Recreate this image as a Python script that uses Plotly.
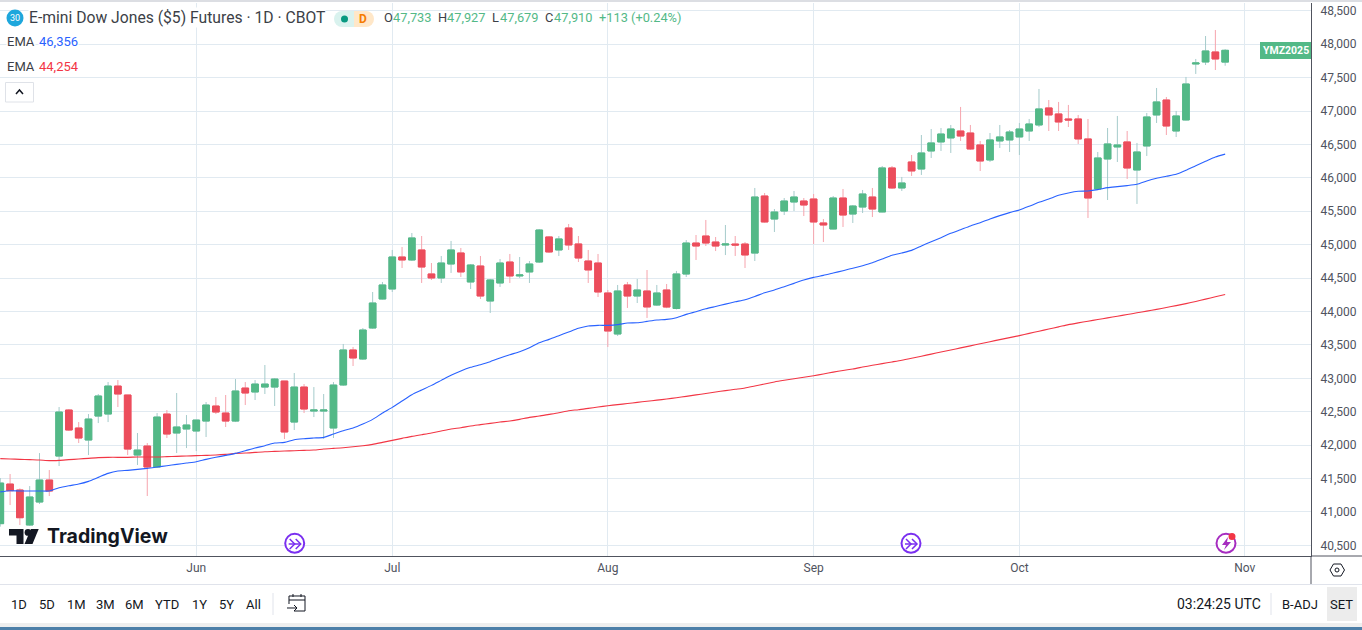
import plotly.graph_objects as go

# trading day number, 0 = 2 Jun
day = list(range(-20, 106))

open_ = [40824,41417,41328,40804,41148,41477,41836,42525,42256,42076,42435,42465,42884,42750,41851,41986,41672,42465,42181,42241,
         42211,42360,42585,42480,42360,42854,42795,42869,42869,42959,42345,42869,42510,42510,42256,42900,43424,43289,43753,44187,
         44337,44816,44771,44921,44562,44502,44711,44876,44442,44681,44157,44427,44741,44532,44592,44741,45116,44921,45250,45011,
         44756,44726,44277,43663,44397,44232,44307,44097,44322,44045,44561,45025,45130,45040,44995,45010,45010,44875,45729,45384,
         45504,45639,45654,45684,45325,45235,45699,45459,45564,45714,45490,46149,45849,46238,46133,46403,46538,46598,46702,46672,
         46493,46268,46553,46568,46613,46702,46792,47047,46957,46882,46882,46583,45834,46283,46463,46538,46118,46478,46942,47166,
         46702,46867,47705,47735,47885,47733]
high = [41507,41567,41352,41387,41881,41627,42570,42540,42345,42465,42765,42944,42974,42750,42181,42031,42480,42525,42780,42450,
        42375,42645,42720,42750,42989,42944,42974,43199,43004,42959,43079,42914,42869,42765,42944,43514,43469,43753,44292,44442,
        44921,44966,45175,45130,44726,44831,45056,44951,44711,44831,44487,44786,44861,44816,44756,45235,45130,45130,45310,45130,
        44921,44861,44322,44397,44442,44487,44621,44397,44412,44607,45070,45145,45370,45115,45295,45130,45040,45849,45774,45534,
        45699,45804,45699,45759,45384,45729,45834,45594,45819,45849,46178,46178,46014,46343,46642,46732,46747,46792,47062,46792,
        46553,46672,46792,46717,46822,46882,47331,47166,47137,47092,46942,46882,46388,46747,46927,46702,46523,46972,47346,47211,
        47002,47511,47780,48124,48214,47927]
low = [40779,41103,40804,40789,41118,41238,41687,42211,42031,41851,42330,42345,42570,41851,41702,41238,41657,42106,41881,41956,
       41911,42121,42465,42271,42345,42600,42675,42765,42585,42091,42226,42480,42420,42091,42106,42885,43184,43274,43740,44180,
       44292,44651,44756,44427,44472,44427,44577,44517,44337,44187,43978,44367,44427,44502,44427,44726,44876,44831,44921,44741,
       44427,44217,43469,43633,44053,44127,43903,44083,44050,44030,44516,44771,44980,44905,44845,44831,44651,44756,45330,45190,
       45444,45504,45429,45010,45040,45230,45265,45325,45474,45414,45485,45834,45804,46029,46044,46298,46403,46373,46553,46418,
       46103,46238,46448,46388,46343,46553,46762,46702,46702,46762,46508,45400,45830,45669,46238,45984,45610,46328,46822,46642,
       46612,46860,47556,47690,47615,47679]
close = [41432,41317,40913,41223,41477,41313,42495,42226,42106,42390,42735,42884,42765,41941,41926,41672,42420,42166,42271,42301,
         42375,42600,42495,42360,42810,42780,42914,42914,42989,42196,42869,42540,42525,42525,42899,43424,43304,43723,44127,44397,
         44816,44771,45101,44666,44502,44726,44921,44592,44696,44232,44472,44726,44532,44547,44711,45220,44891,45086,44996,44801,
         44622,44292,43708,44307,44232,44322,44068,44277,44067,44562,45025,44980,45025,44980,45010,44995,44846,45714,45340,45489,
         45654,45714,45594,45340,45295,45699,45444,45579,45759,45534,46149,45849,45924,46104,46373,46523,46657,46732,46627,46433,
         46253,46568,46613,46687,46732,46807,47032,46942,46837,46867,46583,45699,46298,46508,46493,46148,46388,46912,47137,46777,
         46927,47406,47720,47900,47780,47910]

ema_blue = [41300,41317,41313,41313,41313,41313,41362,41392,41417,41457,41517,41577,41612,41622,41637,41652,41672,41692,41712,41732,
            41752,41787,41817,41846,41876,41916,41956,41991,42031,42041,42081,42096,42106,42116,42166,42216,42256,42315,42385,42480,
            42565,42660,42755,42825,42894,42969,43044,43109,43164,43204,43249,43304,43353,43398,43458,43533,43583,43638,43693,43748,
            43783,43793,43793,43803,43828,43832,43852,43872,43882,43907,43957,43997,44040,44075,44110,44145,44177,44225,44280,44322,
            44371,44421,44471,44511,44541,44576,44611,44646,44686,44731,44786,44841,44876,44915,44980,45045,45105,45170,45225,45280,
            45330,45385,45435,45480,45520,45575,45634,45684,45739,45774,45799,45804,45824,45854,45869,45884,45904,45954,45994,46024,
            46054,46114,46183,46248,46313,46356]
ema_red = [41797,41792,41787,41782,41777,41767,41772,41782,41792,41802,41812,41817,41817,41817,41822,41822,41822,41827,41832,41837,
           41842,41846,41851,41861,41876,41881,41891,41901,41906,41911,41916,41921,41926,41941,41951,41961,41976,41991,42011,42041,
           42071,42101,42131,42156,42181,42211,42241,42261,42286,42306,42326,42345,42360,42385,42415,42435,42460,42485,42515,42530,
           42550,42570,42590,42606,42622,42640,42657,42673,42690,42710,42730,42752,42772,42795,42815,42835,42855,42885,42915,42945,
           42970,42993,43016,43039,43065,43092,43118,43140,43168,43195,43220,43245,43270,43300,43331,43362,43393,43424,43455,43486,
           43517,43548,43579,43609,43639,43672,43705,43738,43770,43803,43830,43855,43880,43905,43930,43955,43980,44005,44032,44060,
           44088,44118,44150,44185,44220,44254]

month_days = [0, 20, 42, 63, 84, 107]
month_labels = ["Jun", "Jul", "Aug", "Sep", "Oct", "Nov"]
range_buttons = ["1D", "5D", "1M", "3M", "6M", "YTD", "1Y", "5Y", "All"]
button_centers = [19, 47, 76, 105, 134, 167, 199, 226, 254]

UP, DOWN = "#53b987", "#ec4d5c"
UP_WICK, DOWN_WICK = "#a5cbcb", "#f6a4ad"
GRID = "#e1eaf1"
DARK = "#131722"
AXIS = "#50535e"
FONT = "Roboto"

# plot area in page pixels
PL, PR, PT, PB = 0, 1311, 3, 556


def px(x, y):
    return (x - PL) / (PR - PL), (PB - y) / (PB - PT)


def path(points, close_it=True):
    s = ""
    for i, (x, y) in enumerate(points):
        X, Y = px(x, y)
        s += ("M" if i == 0 else "L") + f"{X:.5f},{Y:.5f} "
    return s + ("Z" if close_it else "")


fig = go.Figure()
fig.add_trace(go.Scatter(x=day, y=ema_red, mode="lines",
                         line=dict(color="#f23645", width=1.1, shape="spline", smoothing=0.6)))
fig.add_trace(go.Scatter(x=day, y=ema_blue, mode="lines",
                         line=dict(color="#2962ff", width=1.1, shape="spline", smoothing=0.6)))

# wicks are paler than the bodies so they go in a trace of their own
fig.add_trace(go.Candlestick(
    x=day, open=open_, high=high, low=low, close=close,
    increasing=dict(line=dict(color=UP_WICK, width=1), fillcolor=UP),
    decreasing=dict(line=dict(color=DOWN_WICK, width=1), fillcolor=DOWN),
))
fig.add_trace(go.Candlestick(
    x=day, open=open_, close=close,
    high=[max(a, b) for a, b in zip(open_, close)],
    low=[min(a, b) for a, b in zip(open_, close)],
    increasing=dict(line=dict(color=UP, width=1), fillcolor=UP),
    decreasing=dict(line=dict(color=DOWN, width=1), fillcolor=DOWN),
))

shapes = []


def rect(x0, y0, x1, y1, fill, line=None, layer="above"):
    X0, Y0 = px(x0, y0)
    X1, Y1 = px(x1, y1)
    shapes.append(dict(type="rect", xref="paper", yref="paper", x0=X0, y0=Y0, x1=X1, y1=Y1, fillcolor=fill,
                       line=dict(color=line or fill, width=1 if line else 0), layer=layer))


def circle(cx, cy, r, fill, line=None, width=1):
    X0, Y0 = px(cx - r, cy + r)
    X1, Y1 = px(cx + r, cy - r)
    shapes.append(dict(type="circle", xref="paper", yref="paper", x0=X0, y0=Y0, x1=X1, y1=Y1, fillcolor=fill,
                       line=dict(color=line or fill, width=width if line else 0), layer="above"))


def poly(points, fill=None, line=None, width=1, close_it=True):
    shapes.append(dict(type="path", xref="paper", yref="paper", path=path(points, close_it),
                       fillcolor=fill or "rgba(0,0,0,0)", line=dict(color=line or "rgba(0,0,0,0)", width=width),
                       layer="above"))


# frame and bottom bar
rect(0, 0, 1362, 2, "#dcdee3")
poly([(1311, 556), (1311, 584)], line=AXIS, close_it=False)
poly([(1311, 556), (1362, 556)], line=AXIS, close_it=False)
poly([(0, 584.5), (1311, 584.5)], line="#e0e3eb", close_it=False)
poly([(1311, 584.5), (1362, 584.5)], line="#e0e3eb", close_it=False)
rect(0, 623, 1362, 627, "#eeeeee")
rect(0, 627, 1362, 630, "#4d7fa8")
poly([(273, 593), (273, 615)], line="#e0e3eb", close_it=False)
poly([(1271, 593), (1271, 615)], line="#e0e3eb", close_it=False)
rect(1327, 587, 1357, 621, "#ececec")

# calendar button
poly([(289, 604), (289, 596), (305, 596), (305, 611), (294, 611)], line=DARK, close_it=False)
poly([(289, 600), (305, 600)], line=DARK, close_it=False)
poly([(293, 594), (293, 597)], line=DARK, close_it=False)
poly([(301, 594), (301, 597)], line=DARK, close_it=False)
poly([(287, 608), (297, 608)], line=DARK, close_it=False)
poly([(294, 605), (297, 608), (294, 611)], line=DARK, close_it=False)

# chart settings button
poly([(1330, 570), (1333.5, 564), (1341, 564), (1344.5, 570), (1341, 576), (1333.5, 576)], line=DARK)
circle(1337, 570, 2, "#ffffff", line=DARK)

# legend widgets
circle(15, 18, 8.5, "#1ea7dc")
circle(342, 19, 8, "#d9f2ee")
circle(366, 19, 8, "#ffe7c8")
rect(342, 11, 354, 27, "#d9f2ee")
rect(354, 11, 366, 27, "#ffe7c8")
circle(344.5, 19, 3.5, "#089981")
rect(5.5, 82.5, 33.5, 102, "#ffffff", line="#dfe2e8")
poly([(16, 94), (19.5, 90), (23, 94)], line=DARK, width=1.5, close_it=False)
rect(1260, 42, 1311, 59, UP)

# logo
poly([(9, 529), (23.5, 529), (23.5, 544), (16.5, 544), (16.5, 535.5), (9, 535.5)], fill=DARK)
circle(28, 532.4, 3.4, DARK)
poly([(31, 529), (38.7, 529), (32.5, 544), (24.5, 544)], fill=DARK)

# events on the time scale
for cx in (294.7, 911):
    circle(cx, 543.3, 9.5, "#ffffff", line="#7a2ff0", width=2)
    poly([(cx - 6, 544), (cx + 6, 544)], line="#7a2ff0", width=1.5, close_it=False)
    poly([(cx + 1, 539), (cx + 6, 544), (cx + 1, 549)], line="#7a2ff0", width=1.5, close_it=False)
    poly([(cx - 5, 539), (cx, 544), (cx - 5, 549)], line="#7a2ff0", width=1.5, close_it=False)
circle(1226, 543.3, 9.5, "#ffffff", line="#a62cc0", width=2)
poly([(1228, 537), (1222, 545), (1226, 545), (1224, 550), (1231, 542), (1227, 542)], fill="#a62cc0")
circle(1232, 536.5, 3.5, "#f23645")

annotations = []


def label(x, y, text, color=DARK, size=13, anchor="left", bg=None, weight=None, font=FONT):
    X, Y = px(x, y)
    t = f"<b>{text}</b>" if weight else text
    annotations.append(dict(xref="paper", yref="paper", x=X, y=Y, text=t, showarrow=False, xanchor=anchor,
                            yanchor="middle", font=dict(family=font, size=size, color=color),
                            bgcolor=bg, borderpad=0))


label(15, 18, "30", "#ffffff", 9, "center")
label(28, 18, "E-mini Dow Jones ($5) Futures · 1D · CBOT", "#3c3f47", 15.7, bg="#ffffff")
label(358, 19, "D", "#f57c00", 12, "left", weight=True)
label(383, 18, "O", "#3c3f47", 12.8)
label(392, 18, "47,733", UP, 12.8)
label(437, 18, "H", "#3c3f47", 12.8)
label(446, 18, "47,927", UP, 12.8)
label(491, 18, "L", "#3c3f47", 12.8)
label(499, 18, "47,679", UP, 12.8)
label(544, 18, "C", "#3c3f47", 12.8)
label(553, 18, "47,910", UP, 12.8)
label(598, 18, "+113 (+0.24%)", UP, 12.8)
label(6, 42, "EMA", "#3c3f47", 13, bg="#ffffff")
label(38, 42, "46,356", "#2962ff", 13, bg="#ffffff")
label(6, 66, "EMA", "#3c3f47", 13, bg="#ffffff")
label(38, 66, "44,254", "#f23645", 13, bg="#ffffff")
label(1285.5, 51, "YMZ2025", "#ffffff", 10.5, "center", weight=True)
label(45.5, 535.5, "TradingView", DARK, 19.5, weight=True, font="Inter")
for name, cx in zip(range_buttons, button_centers):
    label(cx, 604, name, DARK, 13, "center")
label(1219, 604, "03:24:25 UTC", DARK, 14, "center")
label(1300, 604, "B-ADJ", DARK, 13, "center")
label(1341, 604, "SET", DARK, 13, "center")

fig.update_layout(
    width=1362,
    height=630,
    margin=dict(l=PL, r=1362 - PR, t=PT, b=630 - PB, autoexpand=False),
    paper_bgcolor="#ffffff",
    plot_bgcolor="#ffffff",
    showlegend=False,
    boxgap=0.32,
    boxgroupgap=0,
    font=dict(family=FONT, size=12, color=AXIS),
    shapes=shapes,
    annotations=annotations,
    xaxis=dict(
        range=[-20.03, 113.76], tickmode="array", tickvals=month_days, ticktext=month_labels,
        showgrid=True, gridcolor=GRID, gridwidth=1, zeroline=False, rangeslider=dict(visible=False),
        showline=True, linecolor=AXIS, linewidth=1, ticks="outside", ticklen=1, tickcolor="rgba(0,0,0,0)",
        tickfont=dict(size=12, color=AXIS),
    ),
    yaxis=dict(
        range=[40340, 48618], dtick=500, tick0=40500, side="right", tickformat=",d", separatethousands=True,
        showgrid=True, gridcolor=GRID, gridwidth=1, zeroline=False,
        showline=True, linecolor=AXIS, linewidth=1, ticks="outside", ticklen=6, tickcolor="rgba(0,0,0,0)",
        tickfont=dict(size=12, color=AXIS),
    ),
)

fig.write_html("out.html", config=dict(displayModeBar=False),
               post_script="document.body.style.margin='0';document.body.style.overflow='hidden';")
